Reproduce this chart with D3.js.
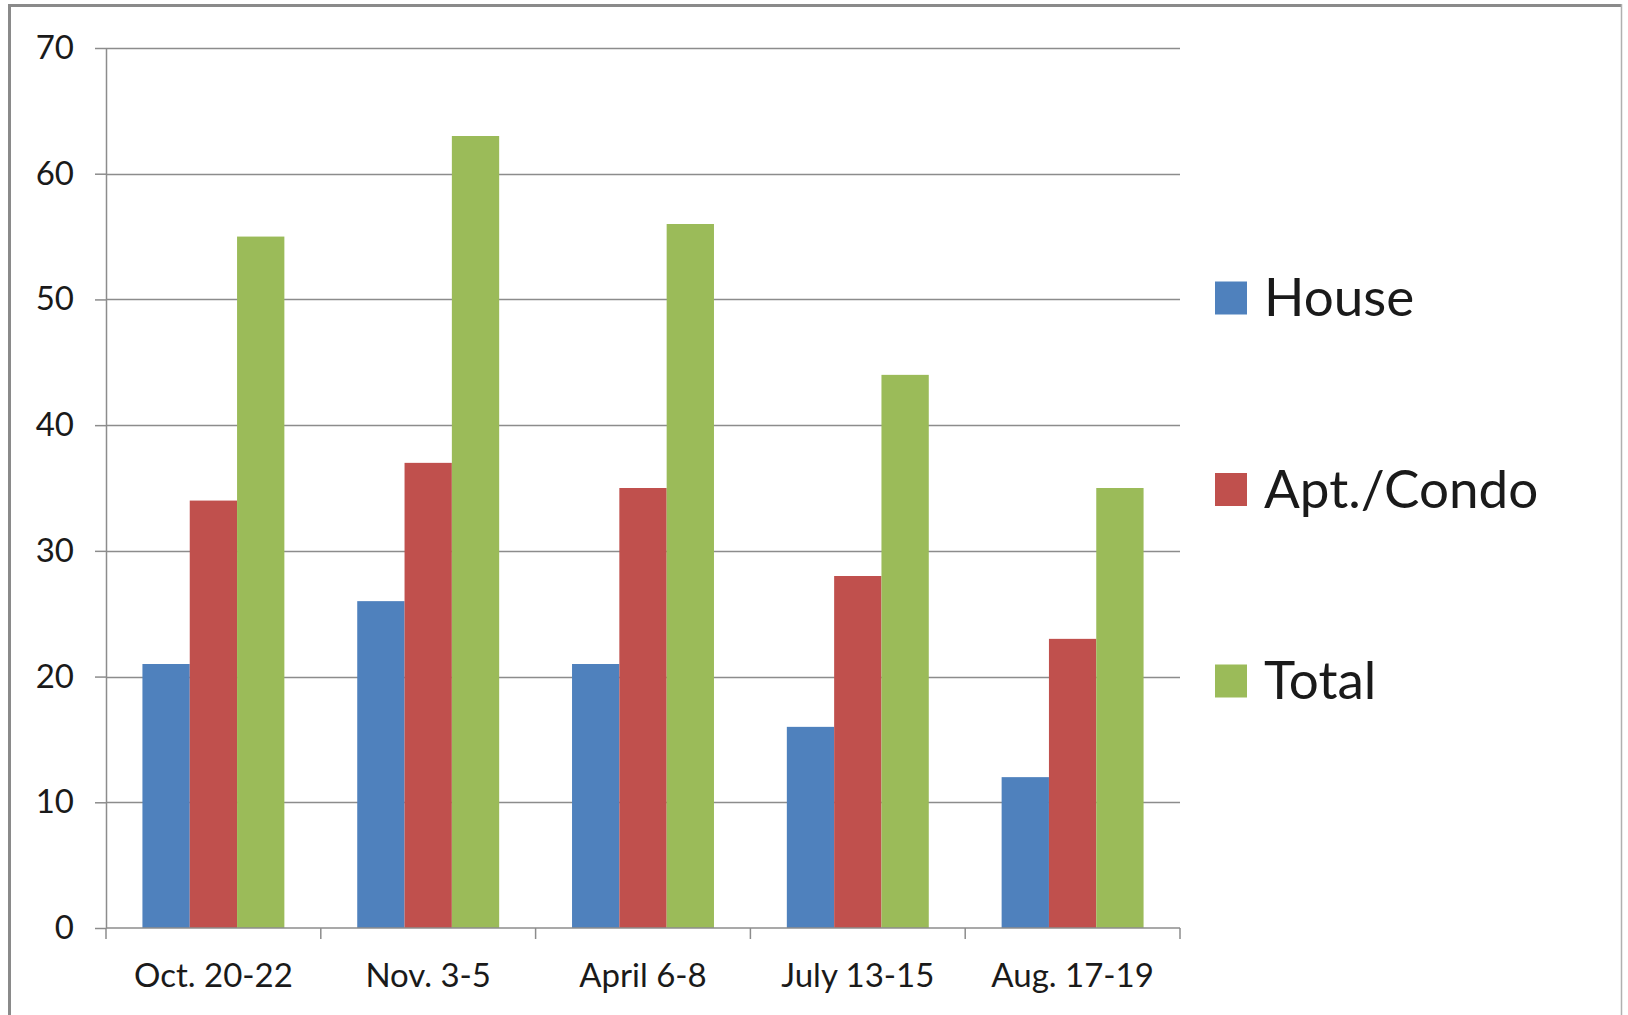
<!DOCTYPE html>
<html>
<head>
<meta charset="utf-8">
<script src="https://cdn.jsdelivr.net/npm/d3@7"></script>
<style>
  body { margin: 0; background: #fff; }
  text { font-family: Lato, "Open Sans", sans-serif; fill: #1a1a1a; }
</style>
</head>
<body>
<div id="chart"></div>
<script>
const svgWidth = 1628;
const svgHeight = 1015;

// data
const periods = ["Oct. 20-22", "Nov. 3-5", "April 6-8", "July 13-15", "Aug. 17-19"];
const seriesNames = ["House", "Apt./Condo", "Total"];
const house = [21, 26, 21, 16, 12];
const aptCondo = [34, 37, 35, 28, 23];
const total = [55, 63, 56, 44, 35];
const yTicks = [0, 10, 20, 30, 40, 50, 60, 70];

const colors = ["#4F81BD", "#C0504D", "#9BBB59"];
const seriesValues = [house, aptCondo, total];

const plot = {left: 106, right: 1180, top: 48, bottom: 928};

const svg = d3.select("#chart")
    .append("svg")
    .attr("width", svgWidth)
    .attr("height", svgHeight);

svg.append("rect")
    .attr("width", svgWidth)
    .attr("height", svgHeight)
    .style("fill", "#fff");

// frame of the screenshot (top + left heavy, right thin)
svg.append("line").attr("x1", 8).attr("x2", 1622).attr("y1", 5.5).attr("y2", 5.5)
    .attr("stroke", "#8a8a8a").attr("stroke-width", 3);
svg.append("line").attr("x1", 9.5).attr("x2", 9.5).attr("y1", 4).attr("y2", svgHeight)
    .attr("stroke", "#8a8a8a").attr("stroke-width", 3);
svg.append("line").attr("x1", 1621.5).attr("x2", 1621.5).attr("y1", 4).attr("y2", svgHeight)
    .attr("stroke", "#b0b0b0").attr("stroke-width", 1.5);

const x = d3.scaleBand()
    .domain(periods)
    .range([plot.left, plot.right])
    .paddingInner(0)
    .paddingOuter(0);

const xInner = d3.scaleBand()
    .domain(seriesNames)
    .range([0, x.bandwidth()])
    .paddingInner(0)
    .paddingOuter(0.77);

const y = d3.scaleLinear()
    .domain([0, 70])
    .range([plot.bottom, plot.top]);

// gridlines
svg.append("g")
    .selectAll("line")
    .data(yTicks.filter(d => d > 0))
    .join("line")
    .attr("x1", plot.left)
    .attr("x2", plot.right)
    .attr("y1", d => Math.round(y(d)) + 0.5)
    .attr("y2", d => Math.round(y(d)) + 0.5)
    .attr("stroke", "#8c8c8c")
    .attr("stroke-width", 1.5);

// bars
const groups = svg.append("g")
    .selectAll("g")
    .data(periods)
    .join("g")
    .attr("transform", d => `translate(${x(d)},0)`);

groups.selectAll("rect")
    .data((d, i) => seriesNames.map((s, j) => ({s, v: seriesValues[j][i], c: colors[j]})))
    .join("rect")
    .attr("x", d => xInner(d.s))
    .attr("width", xInner.bandwidth())
    .attr("y", d => y(d.v))
    .attr("height", d => y(0) - y(d.v))
    .attr("fill", d => d.c);

// y axis
const yAxis = svg.append("g")
    .attr("transform", `translate(${plot.left},0)`)
    .call(d3.axisLeft(y).tickValues(yTicks).tickSize(11).tickPadding(21).tickSizeOuter(0));
yAxis.select(".domain").attr("stroke", "#8c8c8c").attr("stroke-width", 1.5);
yAxis.selectAll(".tick line").attr("stroke", "#8c8c8c").attr("stroke-width", 1.5);
yAxis.selectAll("text")
    .attr("font-size", "33px")
    .attr("font-family", "Lato")
    .attr("fill", "#1a1a1a");

// x axis with ticks at category boundaries
const xAxis = svg.append("g")
    .attr("transform", `translate(0,${plot.bottom})`);
xAxis.append("line")
    .attr("x1", plot.left).attr("x2", plot.right)
    .attr("stroke", "#8c8c8c").attr("stroke-width", 1.5);
const boundaries = periods.map(p => x(p)).concat([x(periods[periods.length - 1]) + x.bandwidth()]);
xAxis.selectAll(".bt")
    .data(boundaries)
    .join("line")
    .attr("class", "bt")
    .attr("x1", d => d).attr("x2", d => d)
    .attr("y1", 0).attr("y2", 11)
    .attr("stroke", "#8c8c8c").attr("stroke-width", 1.5);
xAxis.selectAll("text")
    .data(periods)
    .join("text")
    .attr("x", d => x(d) + x.bandwidth() / 2)
    .attr("y", 59)
    .attr("text-anchor", "middle")
    .attr("font-size", "33px")
    .text(d => d);

// legend
const legend = svg.append("g")
    .selectAll("g")
    .data(seriesNames)
    .join("g")
    .attr("transform", (d, i) => `translate(1215,${298 + i * 191.5})`);
legend.append("rect")
    .attr("x", 0).attr("y", -16.5)
    .attr("width", 32).attr("height", 33)
    .attr("fill", (d, i) => colors[i]);
legend.append("text")
    .attr("x", 49)
    .attr("y", 18)
    .attr("font-size", "53px")
    .text(d => d);
</script>
</body>
</html>
